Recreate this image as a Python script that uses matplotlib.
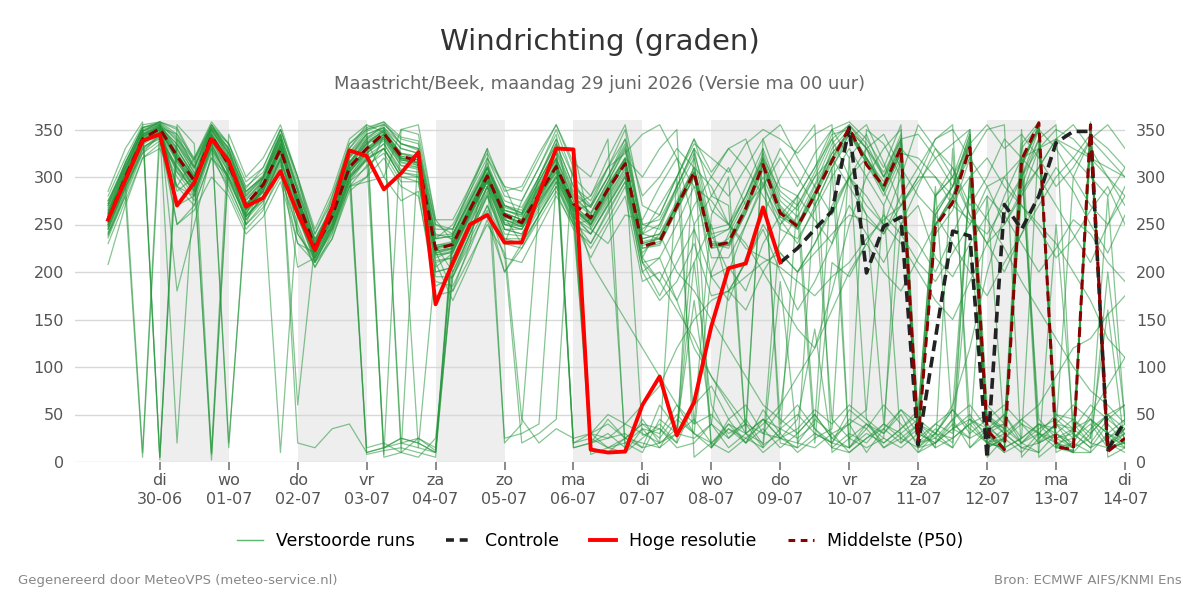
import matplotlib
matplotlib.use("Agg")
import matplotlib.pyplot as plt
from matplotlib.lines import Line2D

# ---------------- data ----------------
# forecast steps in hours since maandag 29-06 00:00 (6-hourly)
hours = list(range(6, 361, 6))
hres_hours = list(range(6, 241, 6))
ctrl_hours = list(range(240, 361, 6))

day_labels = ["di\n30-06", "wo\n01-07", "do\n02-07", "vr\n03-07", "za\n04-07",
              "zo\n05-07", "ma\n06-07", "di\n07-07", "wo\n08-07", "do\n09-07",
              "vr\n10-07", "za\n11-07", "zo\n12-07", "ma\n13-07", "di\n14-07"]
y_ticks = [0, 50, 100, 150, 200, 250, 300, 350]

hres = [255, 297, 338, 345, 270, 294, 340, 317, 269, 278, 306, 262,
        223, 268, 328, 322, 287, 304, 326, 166, 210, 250, 260, 231,
        231, 282, 330, 329, 13, 10, 11, 60, 90, 28, 63, 143,
        204, 209, 268, 210]

control = [210, 225, 245, 264, 352, 199, 248, 258, 18, 130, 243, 238,
           4, 271, 245, 280, 336, 348, 348, 13, 43]

p50 = [255, 300, 340, 351, 322, 296, 343, 313, 271, 292, 329, 276,
       225, 259, 310, 330, 346, 322, 317, 224, 229, 266, 301, 260,
       252, 282, 311, 272, 257, 287, 314, 227, 232, 269, 305, 227,
       231, 267, 313, 262, 248, 281, 317, 352, 313, 290, 331, 23,
       248, 273, 331, 34, 13, 318, 357, 16, 13, 355, 11, 25]

m01 = [262, 305, 345, 355, 330, 300, 350, 320, 260, 300, 350, 300, 228, 262, 315, 338, 300, 350, 355, 255, 232, 270, 305, 262, 255, 290, 318, 275, 260, 292, 320, 230, 235, 272, 310, 230, 225, 262, 300, 258, 250, 290, 325, 345, 320, 295, 338, 25, 40, 30, 300, 20, 15, 25, 340, 10, 20, 350, 15, 30]
m02 = [250, 295, 10, 355, 315, 290, 340, 310, 265, 285, 325, 280, 222, 255, 305, 325, 340, 315, 310, 220, 225, 260, 298, 255, 248, 280, 305, 268, 250, 280, 310, 225, 228, 265, 300, 225, 235, 270, 318, 268, 245, 280, 330, 350, 330, 285, 325, 30, 250, 280, 335, 40, 20, 310, 355, 20, 10, 355, 20, 30]
m03 = [258, 310, 350, 5, 335, 305, 2, 315, 278, 295, 340, 285, 230, 265, 320, 340, 355, 20, 15, 10, 240, 275, 310, 265, 260, 295, 330, 20, 30, 40, 25, 20, 15, 45, 30, 200, 240, 275, 320, 40, 60, 35, 20, 15, 40, 30, 50, 15, 20, 35, 25, 280, 30, 45, 30, 20, 25, 40, 15, 20]
m04 = [245, 292, 335, 350, 320, 285, 345, 20, 262, 288, 330, 275, 218, 258, 312, 8, 12, 15, 10, 5, 210, 250, 290, 250, 245, 275, 300, 265, 255, 285, 315, 235, 240, 275, 310, 240, 200, 250, 290, 255, 230, 270, 310, 345, 315, 280, 320, 30, 260, 290, 345, 20, 15, 300, 350, 25, 15, 340, 25, 20]
m05 = [270, 312, 348, 358, 345, 310, 355, 325, 285, 300, 340, 265, 232, 270, 330, 350, 358, 335, 330, 240, 235, 272, 308, 270, 262, 300, 335, 290, 270, 300, 340, 250, 245, 290, 330, 245, 250, 290, 330, 280, 265, 300, 340, 355, 330, 300, 345, 35, 240, 265, 320, 15, 25, 320, 5, 20, 10, 10, 30, 45]
m06 = [252, 298, 338, 348, 305, 288, 338, 305, 268, 285, 10, 265, 215, 250, 300, 325, 345, 320, 312, 205, 220, 262, 295, 245, 240, 272, 300, 260, 240, 270, 300, 210, 215, 250, 290, 215, 215, 250, 295, 245, 235, 265, 300, 330, 300, 270, 315, 15, 30, 25, 40, 50, 35, 290, 340, 15, 20, 345, 5, 15]
m07 = [275, 315, 352, 2, 340, 318, 352, 330, 290, 305, 345, 290, 235, 268, 325, 345, 5, 10, 25, 15, 245, 280, 315, 270, 265, 300, 340, 15, 20, 25, 30, 15, 20, 300, 40, 50, 30, 40, 330, 20, 15, 280, 45, 25, 15, 25, 340, 20, 25, 15, 300, 45, 35, 320, 25, 40, 15, 330, 20, 10]
m08 = [240, 285, 330, 345, 290, 280, 332, 300, 260, 275, 320, 262, 210, 248, 298, 320, 330, 300, 300, 200, 205, 245, 285, 240, 238, 268, 298, 258, 245, 275, 305, 220, 240, 200, 180, 150, 120, 90, 60, 45, 30, 50, 25, 15, 35, 60, 40, 20, 30, 15, 45, 35, 25, 40, 20, 30, 15, 35, 50, 25]
m09 = [265, 300, 342, 352, 325, 298, 8, 318, 272, 290, 332, 278, 225, 260, 312, 335, 350, 325, 322, 228, 200, 240, 290, 230, 275, 310, 345, 250, 255, 290, 320, 230, 235, 270, 305, 230, 230, 268, 315, 265, 250, 285, 320, 350, 320, 290, 330, 20, 250, 280, 340, 30, 10, 330, 355, 15, 10, 355, 15, 20]
m10 = [255, 302, 340, 350, 20, 295, 345, 15, 270, 290, 335, 20, 15, 35, 40, 10, 15, 25, 20, 10, 200, 240, 280, 235, 230, 260, 290, 250, 30, 25, 40, 30, 20, 30, 25, 40, 180, 210, 250, 220, 200, 230, 270, 300, 280, 250, 300, 20, 40, 55, 30, 45, 60, 40, 30, 25, 35, 20, 45, 60]
m11 = [280, 320, 355, 358, 350, 315, 352, 335, 288, 310, 350, 295, 240, 275, 335, 350, 355, 340, 335, 245, 245, 285, 320, 280, 275, 310, 350, 300, 280, 320, 355, 270, 260, 300, 340, 280, 270, 30, 340, 290, 280, 310, 350, 358, 340, 310, 355, 45, 280, 300, 350, 60, 40, 280, 330, 50, 45, 30, 50, 60]
m12 = [248, 288, 332, 340, 312, 282, 335, 298, 255, 280, 318, 258, 212, 245, 295, 318, 335, 305, 302, 210, 215, 255, 290, 245, 245, 275, 305, 262, 248, 278, 308, 215, 190, 230, 270, 300, 330, 310, 280, 250, 270, 300, 320, 290, 260, 240, 280, 310, 340, 355, 15, 30, 50, 20, 40, 35, 300, 270, 250, 280]
m13 = [260, 303, 344, 353, 328, 302, 347, 317, 270, 292, 333, 272, 226, 262, 318, 10, 15, 20, 25, 12, 228, 265, 300, 258, 252, 285, 318, 20, 25, 15, 10, 35, 30, 60, 40, 260, 300, 30, 45, 35, 25, 40, 310, 15, 30, 20, 35, 50, 290, 35, 45, 30, 40, 350, 20, 30, 15, 25, 280, 40]
m14 = [236, 280, 325, 338, 300, 275, 328, 292, 250, 272, 312, 250, 205, 240, 290, 312, 325, 295, 295, 195, 195, 240, 280, 230, 225, 255, 285, 245, 230, 262, 295, 200, 215, 170, 120, 90, 65, 40, 30, 55, 200, 230, 265, 300, 320, 285, 250, 230, 200, 240, 280, 255, 225, 190, 160, 130, 100, 75, 60, 40]
m15 = [268, 308, 350, 356, 338, 308, 355, 322, 280, 298, 342, 268, 230, 268, 322, 342, 352, 10, 330, 235, 238, 275, 310, 265, 258, 292, 325, 280, 262, 295, 330, 240, 250, 285, 320, 240, 245, 280, 325, 275, 258, 292, 335, 355, 335, 300, 340, 35, 265, 290, 345, 15, 25, 335, 358, 20, 15, 358, 20, 35]
m16 = [208, 270, 320, 335, 310, 290, 340, 310, 265, 285, 320, 262, 218, 252, 305, 328, 340, 312, 310, 215, 222, 260, 295, 250, 248, 278, 308, 265, 30, 50, 40, 60, 80, 120, 150, 170, 180, 195, 210, 220, 200, 220, 240, 260, 255, 240, 270, 300, 300, 280, 250, 290, 300, 320, 330, 340, 330, 320, 310, 300]
m17 = [255, 297, 338, 350, 250, 270, 320, 300, 268, 288, 330, 275, 235, 245, 290, 300, 345, 318, 315, 222, 180, 230, 320, 290, 250, 282, 312, 268, 252, 285, 315, 228, 232, 268, 300, 228, 228, 265, 312, 262, 246, 280, 318, 348, 318, 286, 328, 22, 248, 275, 332, 28, 15, 312, 352, 18, 12, 352, 12, 22]
m18 = [258, 300, 340, 350, 320, 295, 340, 315, 270, 290, 330, 272, 225, 260, 310, 330, 345, 320, 318, 225, 230, 265, 300, 260, 250, 282, 312, 270, 210, 180, 150, 120, 90, 60, 30, 20, 10, 25, 40, 60, 90, 120, 180, 250, 300, 330, 350, 10, 30, 60, 120, 200, 260, 300, 340, 355, 20, 50, 80, 110]
m19 = [262, 304, 343, 354, 330, 300, 345, 318, 272, 290, 334, 276, 227, 262, 314, 336, 348, 322, 318, 226, 230, 266, 302, 260, 252, 284, 315, 270, 255, 290, 320, 300, 330, 350, 5, 20, 40, 30, 20, 250, 280, 310, 340, 300, 270, 250, 230, 200, 170, 150, 190, 230, 280, 320, 300, 270, 240, 210, 250, 290]
m20 = [250, 293, 336, 348, 318, 292, 340, 312, 266, 286, 328, 270, 222, 256, 308, 328, 342, 316, 312, 220, 224, 262, 298, 252, 248, 280, 310, 266, 270, 310, 325, 345, 355, 320, 290, 275, 250, 225, 215, 205, 190, 175, 195, 210, 235, 255, 270, 295, 320, 335, 350, 5, 25, 45, 60, 90, 120, 130, 155, 175]
m21 = [246, 290, 334, 346, 316, 290, 338, 308, 262, 284, 326, 268, 220, 254, 306, 325, 338, 312, 308, 218, 220, 258, 295, 250, 245, 276, 308, 262, 8, 15, 25, 40, 35, 20, 330, 15, 45, 60, 30, 25, 20, 15, 30, 40, 55, 270, 20, 35, 15, 25, 40, 20, 30, 15, 10, 250, 40, 20, 15, 35]
m22 = [272, 314, 352, 357, 342, 312, 350, 328, 284, 302, 344, 288, 234, 270, 326, 348, 356, 335, 328, 238, 240, 278, 312, 270, 262, 296, 330, 285, 268, 300, 335, 245, 260, 300, 335, 320, 305, 335, 350, 340, 325, 345, 355, 15, 350, 335, 300, 355, 330, 310, 270, 300, 340, 320, 350, 330, 300, 340, 320, 300]
m23 = [252, 296, 336, 347, 322, 294, 340, 312, 266, 287, 330, 272, 223, 258, 308, 330, 342, 318, 314, 222, 225, 262, 298, 255, 248, 280, 312, 268, 250, 285, 315, 28, 35, 15, 20, 40, 25, 45, 18, 30, 280, 35, 15, 10, 25, 40, 30, 45, 30, 55, 300, 20, 25, 10, 30, 15, 35, 45, 20, 15]
m24 = [258, 300, 342, 352, 290, 320, 355, 330, 270, 290, 332, 274, 226, 260, 312, 334, 346, 320, 316, 224, 228, 264, 300, 258, 230, 300, 340, 300, 255, 288, 318, 235, 240, 270, 305, 235, 245, 280, 320, 270, 250, 284, 325, 348, 320, 290, 335, 30, 260, 290, 340, 45, 30, 315, 350, 40, 35, 350, 25, 40]
m25 = [242, 288, 330, 343, 308, 285, 334, 305, 258, 280, 322, 265, 215, 250, 302, 322, 335, 308, 305, 212, 215, 252, 290, 245, 240, 272, 302, 258, 240, 272, 302, 215, 250, 290, 330, 300, 280, 310, 340, 355, 320, 290, 260, 300, 330, 345, 310, 280, 260, 230, 200, 175, 210, 240, 270, 300, 320, 345, 330, 310]
m26 = [264, 306, 346, 354, 334, 304, 350, 320, 276, 294, 336, 278, 228, 264, 316, 338, 348, 324, 320, 228, 232, 268, 304, 262, 255, 288, 320, 15, 20, 30, 15, 45, 20, 35, 250, 15, 40, 20, 55, 30, 10, 25, 35, 320, 45, 15, 30, 10, 20, 40, 25, 35, 15, 310, 45, 25, 30, 15, 40, 20]
m27 = [260, 302, 343, 352, 323, 297, 344, 315, 250, 300, 345, 240, 215, 280, 330, 355, 347, 322, 318, 226, 230, 266, 301, 258, 250, 282, 314, 270, 254, 287, 318, 232, 236, 272, 306, 232, 230, 266, 314, 264, 248, 282, 320, 350, 320, 288, 330, 25, 250, 278, 336, 32, 14, 314, 354, 16, 12, 354, 14, 24]
m28 = [230, 275, 320, 330, 290, 270, 320, 290, 250, 268, 300, 245, 205, 235, 285, 300, 320, 290, 280, 190, 185, 225, 270, 215, 210, 245, 280, 250, 225, 255, 290, 200, 170, 190, 230, 175, 180, 210, 245, 200, 160, 190, 230, 270, 240, 210, 250, 290, 330, 300, 260, 230, 200, 240, 280, 310, 285, 250, 220, 260]
m29 = [285, 330, 358, 5, 355, 335, 10, 345, 300, 320, 355, 300, 245, 285, 340, 355, 8, 350, 345, 255, 255, 290, 325, 290, 285, 320, 355, 315, 300, 340, 10, 25, 40, 20, 60, 80, 45, 20, 35, 15, 30, 50, 25, 40, 10, 35, 55, 30, 20, 45, 15, 35, 50, 25, 40, 20, 10, 30, 50, 35]
m30 = [240, 280, 5, 340, 250, 265, 300, 280, 240, 258, 295, 230, 210, 235, 290, 295, 300, 275, 285, 175, 180, 215, 250, 220, 20, 30, 45, 330, 245, 230, 260, 255, 290, 320, 250, 280, 310, 270, 290, 330, 300, 270, 310, 340, 355, 315, 270, 300, 340, 350, 320, 290, 250, 280, 310, 340, 320, 300, 280, 310]
m31 = [275, 310, 348, 358, 270, 280, 335, 295, 258, 280, 318, 205, 215, 245, 295, 15, 20, 10, 5, 25, 195, 235, 270, 230, 45, 20, 35, 25, 30, 15, 20, 10, 45, 30, 210, 60, 25, 40, 15, 35, 50, 30, 20, 45, 35, 15, 25, 40, 30, 55, 35, 20, 15, 25, 40, 30, 20, 10, 200, 45]
m32 = [262, 315, 352, 356, 180, 250, 325, 285, 245, 265, 308, 230, 220, 250, 300, 318, 330, 300, 15, 210, 170, 210, 255, 200, 230, 260, 295, 255, 215, 250, 280, 190, 200, 170, 210, 250, 180, 160, 200, 230, 260, 20, 210, 195, 230, 260, 240, 210, 190, 220, 250, 280, 260, 230, 200, 225, 255, 240, 210, 190]
m33 = [250, 292, 338, 352, 345, 320, 358, 335, 285, 300, 335, 60, 230, 262, 315, 340, 350, 330, 325, 235, 250, 285, 330, 20, 40, 270, 300, 270, 280, 310, 350, 240, 270, 300, 340, 305, 330, 340, 290, 320, 290, 325, 350, 320, 345, 300, 330, 310, 280, 300, 335, 355, 330, 345, 320, 290, 310, 340, 355, 330]
m34 = [266, 308, 348, 355, 285, 300, 352, 330, 280, 300, 345, 285, 210, 245, 300, 320, 15, 25, 20, 10, 235, 268, 305, 265, 260, 290, 320, 275, 20, 45, 25, 15, 60, 35, 170, 40, 15, 30, 10, 25, 45, 140, 15, 30, 20, 40, 25, 15, 35, 20, 230, 50, 30, 15, 20, 40, 25, 45, 30, 15]
m35 = [258, 300, 345, 352, 335, 310, 348, 325, 275, 298, 338, 280, 228, 265, 320, 345, 352, 335, 330, 250, 240, 275, 310, 275, 268, 300, 335, 290, 275, 310, 340, 280, 300, 330, 310, 290, 250, 230, 200, 170, 140, 120, 160, 200, 230, 200, 180, 215, 250, 275, 300, 320, 290, 270, 250, 230, 200, 170, 130, 110]
m36 = [245, 290, 325, 345, 310, 285, 330, 300, 255, 275, 315, 240, 212, 242, 295, 310, 330, 300, 295, 185, 195, 230, 265, 200, 225, 260, 290, 255, 230, 265, 295, 210, 175, 210, 245, 195, 205, 180, 230, 260, 280, 255, 230, 300, 260, 40, 250, 270, 215, 195, 230, 260, 300, 270, 245, 215, 235, 265, 290, 250]
m37 = [272, 315, 352, 358, 352, 318, 355, 335, 295, 310, 350, 300, 240, 280, 335, 352, 358, 342, 338, 250, 245, 290, 330, 285, 290, 325, 355, 310, 15, 10, 25, 40, 25, 50, 30, 15, 35, 20, 45, 25, 15, 30, 20, 55, 40, 25, 15, 30, 20, 35, 50, 25, 10, 20, 35, 45, 30, 15, 25, 35]
m38 = [255, 300, 342, 350, 318, 294, 342, 313, 266, 288, 330, 270, 222, 255, 305, 328, 342, 318, 315, 218, 222, 258, 296, 25, 30, 40, 295, 265, 250, 282, 315, 225, 230, 265, 300, 225, 228, 262, 308, 258, 245, 278, 315, 345, 315, 285, 325, 320, 300, 270, 255, 240, 270, 300, 330, 350, 340, 320, 300, 270]
m39 = [248, 296, 340, 350, 322, 300, 345, 318, 270, 290, 330, 275, 225, 258, 308, 330, 345, 320, 315, 222, 226, 264, 300, 255, 250, 280, 312, 265, 250, 285, 20, 35, 15, 30, 45, 20, 35, 25, 15, 190, 20, 45, 30, 10, 25, 35, 20, 40, 15, 330, 45, 20, 35, 20, 10, 30, 45, 25, 160, 15]
m40 = [260, 305, 345, 353, 325, 298, 345, 315, 270, 292, 333, 275, 226, 262, 315, 335, 348, 325, 320, 228, 230, 268, 303, 262, 255, 288, 320, 278, 262, 295, 328, 240, 235, 270, 305, 195, 170, 215, 260, 300, 330, 355, 10, 25, 40, 20, 35, 55, 280, 310, 260, 230, 250, 285, 310, 340, 355, 330, 300, 280]
m41 = [238, 283, 328, 342, 305, 280, 330, 298, 258, 278, 318, 258, 215, 248, 298, 318, 330, 305, 300, 200, 205, 245, 282, 235, 235, 265, 295, 250, 240, 270, 300, 210, 190, 160, 130, 90, 60, 30, 45, 25, 35, 55, 40, 60, 45, 30, 55, 40, 25, 45, 60, 35, 40, 20, 30, 50, 35, 60, 45, 30]
m42 = [270, 310, 348, 355, 340, 310, 350, 325, 282, 300, 340, 285, 232, 268, 322, 345, 352, 330, 325, 235, 238, 275, 310, 268, 262, 295, 328, 282, 268, 300, 332, 250, 255, 290, 325, 265, 250, 280, 320, 285, 270, 305, 345, 350, 330, 305, 340, 345, 320, 290, 320, 350, 355, 5, 25, 40, 60, 45, 30, 20]

members = [m01, m02, m03, m04, m05, m06, m07, m08, m09, m10, m11, m12, m13, m14,
           m15, m16, m17, m18, m19, m20, m21, m22, m23, m24, m25, m26, m27, m28,
           m29, m30, m31, m32, m33, m34, m35, m36, m37, m38, m39, m40, m41, m42]

# ---------------- figure ----------------
plt.rcParams["font.family"] = ["DejaVu Sans"]
fig = plt.figure(figsize=(12, 6), dpi=100)
ax = fig.add_axes([0.0625, 0.23, 0.875, 0.57])


def to_days(hs):
    return [h / 24.0 for h in hs]


x_all = to_days(hours)

# alternate day shading
for d in range(1, 15, 2):
    ax.axvspan(d, d + 1, color="#eeeeee", zorder=0, lw=0)

ens_col = "#23963a"
for m in members:
    ax.plot(x_all, m, color=ens_col, lw=0.9, alpha=0.55, zorder=2)

ax.plot(to_days(ctrl_hours), control, color="#222222", lw=2.6, ls=(0, (3, 1.6)), zorder=4)
ax.plot(to_days(hres_hours), hres, color="#ff0000", lw=2.8, zorder=5)
ax.plot(x_all, p50, color="#8b0000", lw=2.2, ls=(0, (3.2, 2)), zorder=4.5)

ax.set_xlim(-0.23, 15.0)
ax.set_ylim(0, 360)
ax.set_yticks(y_ticks)
ax.set_xticks(range(1, 16))
ax.set_xticklabels(day_labels, linespacing=1.35)
ax.grid(axis="y", color="#d8d8d8", lw=1, zorder=1)
ax.set_axisbelow(True)
for s in ax.spines.values():
    s.set_visible(False)
ax.tick_params(axis="y", length=0, labelsize=11.5, labelcolor="#555555", pad=8)
ax.tick_params(axis="x", length=6, width=1.2, color="#777777", labelsize=11.5,
               labelcolor="#555555", pad=2)

ax2 = ax.twinx()
ax2.set_ylim(0, 360)
ax2.set_yticks(y_ticks)
for s in ax2.spines.values():
    s.set_visible(False)
ax2.tick_params(axis="y", length=0, labelsize=11.5, labelcolor="#555555", pad=8)

fig.text(0.5, 0.93, "Windrichting (graden)", ha="center", va="center",
         fontsize=21, color="#333333")
fig.text(0.5, 0.86, "Maastricht/Beek, maandag 29 juni 2026 (Versie ma 00 uur)",
         ha="center", va="center", fontsize=12.9, color="#666666")

handles = [
    Line2D([], [], color="#5cb86e", lw=1),
    Line2D([], [], color="#222222", lw=2.6, ls=(0, (2.2, 1.6))),
    Line2D([], [], color="#ff0000", lw=2.8),
    Line2D([], [], color="#8b0000", lw=2.2, ls=(0, (2.2, 1.8))),
]
labels = ["Verstoorde runs", "Controle", "Hoge resolutie", "Middelste (P50)"]
fig.legend(handles, labels, loc="center", bbox_to_anchor=(0.5, 0.098), ncol=4,
           frameon=False, fontsize=12.5, handlelength=1.5, handletextpad=0.75,
           columnspacing=1.8)

fig.text(0.015, 0.033, "Gegenereerd door MeteoVPS (meteo-service.nl)",
         ha="left", va="center", fontsize=9.5, color="#888888")
fig.text(0.985, 0.033, "Bron: ECMWF AIFS/KNMI Ens",
         ha="right", va="center", fontsize=9.5, color="#888888")

fig.savefig("out.png", dpi=100)
